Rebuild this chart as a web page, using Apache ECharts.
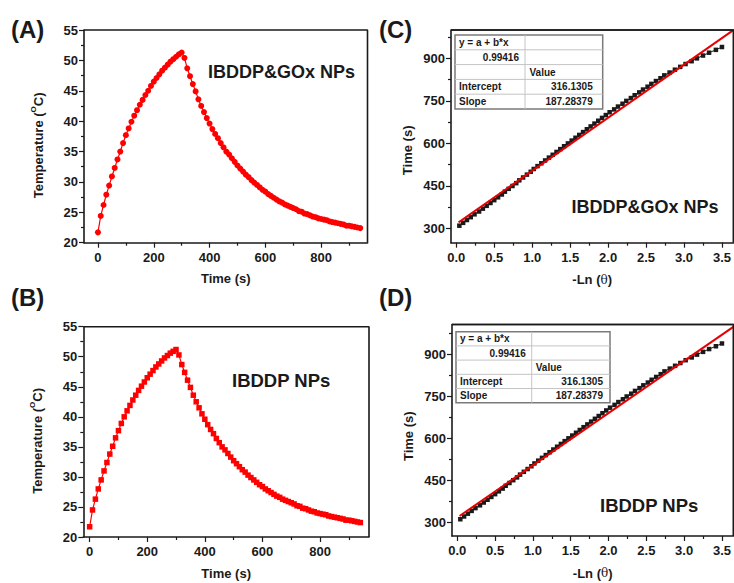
<!DOCTYPE html>
<html>
<head>
<meta charset="utf-8">
<script src="https://cdn.jsdelivr.net/npm/echarts@6/dist/echarts.min.js"></script>
<style>
  html, body { margin: 0; padding: 0; background: #fff; }
  #chart { width: 734px; height: 583px; }
</style>
</head>
<body>
<div id="chart"></div>
<script>
// ---- Photothermal heating / cooling record (laser on 0-300 s, off afterwards) ----
const timeSec = [
  0,10,20,30,40,50,60,70,80,90,100,110,120,130,140,150,160,170,180,190,
  200,210,220,230,240,250,260,270,280,290,300,310,320,330,340,350,360,370,380,390,
  400,410,420,430,440,450,460,470,480,490,500,510,520,530,540,550,560,570,580,590,
  600,610,620,630,640,650,660,670,680,690,700,710,720,730,740,750,760,770,780,790,
  800,810,820,830,840,850,860,870,880,890,900,910,920,930,940
];

// Temperature (°C), IBDDP&GOx NPs
const tempGOx = [
  21.7,24.4,26.2,27.9,29.4,30.9,32.3,33.7,35.0,36.4,37.7,38.8,39.9,40.9,41.8,42.7,43.5,44.3,45.0,45.8,
  46.5,47.1,47.7,48.3,48.8,49.3,49.8,50.2,50.6,51.0,51.3,50.4,48.7,47.4,46.1,44.9,43.6,42.5,41.5,40.5,
  39.6,38.7,37.9,37.2,36.4,35.7,35.0,34.5,33.9,33.3,32.7,32.2,31.7,31.2,30.8,30.3,29.9,29.5,29.1,28.7,
  28.4,28.0,27.7,27.4,27.1,26.8,26.6,26.3,26.1,25.9,25.7,25.5,25.2,25.1,24.8,24.7,24.5,24.3,24.2,24.0,
  23.9,23.8,23.7,23.5,23.4,23.3,23.2,23.1,23.0,22.8,22.8,22.7,22.6,22.5,22.4
];

// Temperature (°C), IBDDP NPs
const tempIBDDP = [
  21.7,24.5,26.3,28.0,29.5,31.0,32.4,33.8,35.1,36.5,37.7,38.9,40.0,41.0,41.9,42.8,43.6,44.4,45.1,45.8,
  46.5,47.1,47.7,48.3,48.8,49.3,49.8,50.2,50.6,50.9,51.2,50.3,48.7,47.4,46.1,44.9,43.6,42.5,41.5,40.5,
  39.6,38.7,37.9,37.2,36.4,35.7,35.0,34.5,33.9,33.3,32.7,32.2,31.7,31.2,30.8,30.3,29.9,29.5,29.1,28.7,
  28.4,28.0,27.7,27.4,27.1,26.8,26.6,26.3,26.1,25.9,25.7,25.5,25.2,25.1,24.8,24.7,24.5,24.3,24.2,24.0,
  23.9,23.8,23.7,23.5,23.4,23.3,23.2,23.1,23.0,22.8,22.8,22.7,22.6,22.5,22.4
];

// ---- Cooling stage: time vs -ln(theta) ----
const coolTime = [
  310,320,330,340,350,360,370,380,390,400,410,420,430,440,450,460,470,480,490,500,
  510,520,530,540,550,560,570,580,590,600,610,620,630,640,650,660,670,680,690,700,
  710,720,730,740,750,760,770,780,790,800,810,820,830,840,850,860,870,880,890,900,
  910,920,930,940
];
const lnThetaGOx = [
  0.04,0.09,0.14,0.19,0.24,0.30,0.35,0.40,0.45,0.50,0.55,0.60,0.64,0.69,0.74,0.79,0.83,0.88,0.93,0.98,
  1.02,1.07,1.12,1.17,1.22,1.27,1.32,1.37,1.42,1.47,1.52,1.57,1.62,1.67,1.72,1.77,1.82,1.87,1.92,1.97,
  2.02,2.08,2.13,2.19,2.24,2.30,2.35,2.41,2.46,2.52,2.57,2.63,2.69,2.74,2.81,2.88,2.95,3.02,3.10,3.17,
  3.25,3.33,3.42,3.50
];
const lnThetaIBDDP = [
  0.04,0.09,0.14,0.19,0.24,0.30,0.35,0.40,0.45,0.50,0.55,0.60,0.64,0.69,0.74,0.79,0.83,0.88,0.93,0.98,
  1.02,1.07,1.12,1.17,1.22,1.27,1.32,1.37,1.42,1.47,1.52,1.57,1.62,1.67,1.72,1.77,1.82,1.87,1.92,1.97,
  2.02,2.08,2.13,2.19,2.24,2.30,2.35,2.41,2.46,2.52,2.57,2.63,2.69,2.74,2.81,2.88,2.95,3.02,3.10,3.17,
  3.25,3.33,3.42,3.50
];

// Linear fit y = a + b*x (same fit reported for both samples)
const fitIntercept = 316.1305;
const fitSlope = 187.28379;
const fitR = 0.99416;
const fitXRange = [0.03, 3.65];

// ---- Tick positions ----
const timeTicks = [0, 200, 400, 600, 800];
const timeMinor = [100, 300, 500, 700, 900];
const tempTicks = [20, 25, 30, 35, 40, 45, 50, 55];
const tempMinor = [22.5, 27.5, 32.5, 37.5, 42.5, 47.5, 52.5];
const lnTicks = [0, 0.5, 1.0, 1.5, 2.0, 2.5, 3.0, 3.5];
const lnMinor = [0.25, 0.75, 1.25, 1.75, 2.25, 2.75, 3.25];
const coolTicks = [300, 450, 600, 750, 900];
const coolMinor = [375, 525, 675, 825, 975];

const INK = '#1a1a1a';
const RED = '#ff0000';
const FONT = "'Liberation Sans', Arial, sans-serif";
const CANVAS_W = 734;

const grids = [
  { left: 84,  top: 30,    width: 283.5, height: 212.7 },   // A
  { left: 83.3, top: 326.7, width: 285.7, height: 216 },    // B
  { left: 451, top: 30,    width: 289.4, height: 212.7 },   // C
  { left: 452, top: 324.5, width: 289,   height: 214 }      // D
];

// x / y ranges for each panel
const xRanges = [[-50, 966], [-22, 970], [-0.07, 3.65], [-0.07, 3.65]];
const yRanges = [[20, 55], [20, 55], [250, 1000], [250, 1008]];

function majorAxis(gridIndex, pos, range, ticks, fmt, name, nameGap, namePad, rich) {
  return {
    type: 'value', gridIndex, position: pos, min: range[0], max: range[1],
    axisLine: { show: true, onZero: false, lineStyle: { color: INK, width: 1.6 } },
    axisTick: { show: true, customValues: ticks, length: 5, lineStyle: { color: INK, width: 1.2 } },
    axisLabel: {
      show: true, customValues: ticks, formatter: fmt,
      margin: pos === 'left' ? 6 : 8,
      color: INK, fontFamily: FONT, fontWeight: 'bold', fontSize: 13
    },
    splitLine: { show: false },
    name, nameLocation: 'middle', nameGap, nameRotate: pos === 'left' ? 90 : 0,
    nameTextStyle: {
      color: INK, fontFamily: FONT, fontWeight: 'bold', fontSize: 13,
      padding: namePad, lineHeight: 18, rich
    }
  };
}
function minorAxis(gridIndex, pos, range, ticks) {
  return {
    type: 'value', gridIndex, position: pos, min: range[0], max: range[1],
    axisLine: { show: false, onZero: false },
    axisTick: { show: true, customValues: ticks, length: 3, lineStyle: { color: INK, width: 1.2 } },
    axisLabel: { show: false },
    splitLine: { show: false }
  };
}

const intFmt = v => String(Math.round(v));
const oneDec = v => v.toFixed(1);
const tempRich = { sup: { fontSize: 8, fontWeight: 'bold', fontFamily: FONT, color: INK, verticalAlign: 'top', lineHeight: 18 } };
const thetaRich = { th: { fontSize: 12, fontWeight: 'normal', fontFamily: "'DejaVu Serif', serif", color: INK } };
const tempName = 'Temperature ({sup|O}C)';
const lnName = '-Ln ({th|\u03b8})';

const xAxes = [
  majorAxis(0, 'bottom', xRanges[0], timeTicks, intFmt, 'Time (s)', 27),
  majorAxis(1, 'bottom', xRanges[1], timeTicks, intFmt, 'Time (s)', 27),
  majorAxis(2, 'bottom', xRanges[2], lnTicks, oneDec, lnName, 28, [0, 0, 0, 0], thetaRich),
  majorAxis(3, 'bottom', xRanges[3], lnTicks, oneDec, lnName, 28, [0, 0, 0, 0], thetaRich),
  minorAxis(0, 'bottom', xRanges[0], timeMinor),
  minorAxis(1, 'bottom', xRanges[1], timeMinor),
  minorAxis(2, 'bottom', xRanges[2], lnMinor),
  minorAxis(3, 'bottom', xRanges[3], lnMinor)
];
const yAxes = [
  majorAxis(0, 'left', yRanges[0], tempTicks, intFmt, tempName, 37, [0, 18, 0, 0], tempRich),
  majorAxis(1, 'left', yRanges[1], tempTicks, intFmt, tempName, 37, [0, 18, 0, 0], tempRich),
  majorAxis(2, 'left', yRanges[2], coolTicks, intFmt, 'Time (s)', 35, [0, 28, 0, 0]),
  majorAxis(3, 'left', yRanges[3], coolTicks, intFmt, 'Time (s)', 35, [0, 12, 0, 0]),
  minorAxis(0, 'left', yRanges[0], tempMinor),
  minorAxis(1, 'left', yRanges[1], tempMinor),
  minorAxis(2, 'left', yRanges[2], coolMinor),
  minorAxis(3, 'left', yRanges[3], coolMinor)
];

const pairs = (xs, ys) => xs.map((x, i) => [x, ys[i]]);
const fitLine = fitXRange.map(x => [x, fitIntercept + fitSlope * x]);

const series = [
  { type: 'line', xAxisIndex: 0, yAxisIndex: 0, data: pairs(timeSec, tempGOx),
    symbol: 'circle', symbolSize: 6, itemStyle: { color: RED }, lineStyle: { color: RED, width: 1.2 } },
  { type: 'line', xAxisIndex: 1, yAxisIndex: 1, data: pairs(timeSec, tempIBDDP),
    symbol: 'rect', symbolSize: 5.5, itemStyle: { color: RED }, lineStyle: { color: RED, width: 1.2 } },
  { type: 'line', xAxisIndex: 2, yAxisIndex: 2, data: pairs(lnThetaGOx, coolTime),
    symbol: 'rect', symbolSize: 4.5, itemStyle: { color: INK }, lineStyle: { color: INK, width: 1 } },
  { type: 'line', xAxisIndex: 2, yAxisIndex: 2, data: fitLine, symbol: 'none', z: 5,
    lineStyle: { color: '#e80000', width: 2 } },
  { type: 'line', xAxisIndex: 3, yAxisIndex: 3, data: pairs(lnThetaIBDDP, coolTime),
    symbol: 'rect', symbolSize: 4.5, itemStyle: { color: INK }, lineStyle: { color: INK, width: 1 } },
  { type: 'line', xAxisIndex: 3, yAxisIndex: 3, data: fitLine, symbol: 'none', z: 5,
    lineStyle: { color: '#e80000', width: 2 } },
  // top and right edges of each plot box, traced along the axis limits
  ...xRanges.map((xr, i) => ({
    type: 'line', xAxisIndex: i, yAxisIndex: i, symbol: 'none', clip: false, z: 6,
    data: [[xr[0], yRanges[i][1]], [xr[1], yRanges[i][1]], [xr[1], yRanges[i][0]]],
    lineStyle: { color: INK, width: 1.6 }
  }))
].map(s => Object.assign(s, { showSymbol: s.symbol !== 'none', animation: false, silent: true }));

// ---- Text annotations and fit-parameter tables ----
function text(x, y, str, size, weight, align) {
  return { type: 'text', x, y, z: 100, silent: true,
    style: { text: str, fill: INK, fontFamily: FONT, fontSize: size, fontWeight: weight,
             align: align || 'left', verticalAlign: 'middle' } };
}
function segment(x1, y1, x2, y2, color, width) {
  return { type: 'line', z: 99, silent: true, shape: { x1, y1, x2, y2 },
           style: { stroke: color, lineWidth: width } };
}
function fitTable(x0, y0, w, h, split, valueInset, rightInset) {
  const rh = h / 5;
  const els = [{ type: 'rect', z: 99, silent: true, shape: { x: x0, y: y0, width: w, height: h },
                 style: { fill: '#fff', stroke: '#7a7a7a', lineWidth: 1.5 } }];
  for (let k = 1; k < 5; k++) els.push(segment(x0, y0 + k * rh, x0 + w, y0 + k * rh, '#c4c4c4', 1));
  els.push(segment(split, y0, split, y0 + h, '#c4c4c4', 1));
  const cy = k => y0 + (k + 0.5) * rh;
  els.push(text(x0 + 4, cy(0), 'y = a + b*x', 10, 'bold'));
  els.push(text(split - 6, cy(1), String(fitR), 10, 'bold', 'right'));
  els.push(text(split + valueInset, cy(2), 'Value', 10, 'bold'));
  els.push(text(x0 + 4, cy(3), 'Intercept', 10, 'bold'));
  els.push(text(x0 + w - rightInset, cy(3), String(fitIntercept), 10, 'bold', 'right'));
  els.push(text(x0 + 4, cy(4), 'Slope', 10, 'bold'));
  els.push(text(x0 + w - rightInset, cy(4), String(fitSlope), 10, 'bold', 'right'));
  return els;
}

const graphic = [
  // top edge of the two right-hand boxes, up to the page border
  segment(grids[2].left, grids[2].top, CANVAS_W, grids[2].top, INK, 1.6),
  segment(grids[3].left, grids[3].top, CANVAS_W, grids[3].top, INK, 1.6),
  text(11, 29, '(A)', 24, 'bold'),
  text(11, 297, '(B)', 24, 'bold'),
  text(379, 29, '(C)', 24, 'bold'),
  text(379, 297, '(D)', 24, 'bold'),
  text(208, 72, 'IBDDP&GOx NPs', 18, 'bold'),
  text(232, 380, 'IBDDP NPs', 18.5, 'bold'),
  text(571.5, 207, 'IBDDP&GOx NPs', 18, 'bold'),
  text(600, 505, 'IBDDP NPs', 18.5, 'bold'),
  ...fitTable(455, 35, 147.7, 74, 525, 4.5, 10),
  ...fitTable(456, 331.7, 154, 71, 531.7, 4, 7)
];

const chart = echarts.init(document.getElementById('chart'), null, { renderer: 'svg' });
chart.setOption({
  animation: false,
  backgroundColor: '#fff',
  grid: grids,
  xAxis: xAxes,
  yAxis: yAxes,
  series,
  graphic
});
</script>
</body>
</html>
